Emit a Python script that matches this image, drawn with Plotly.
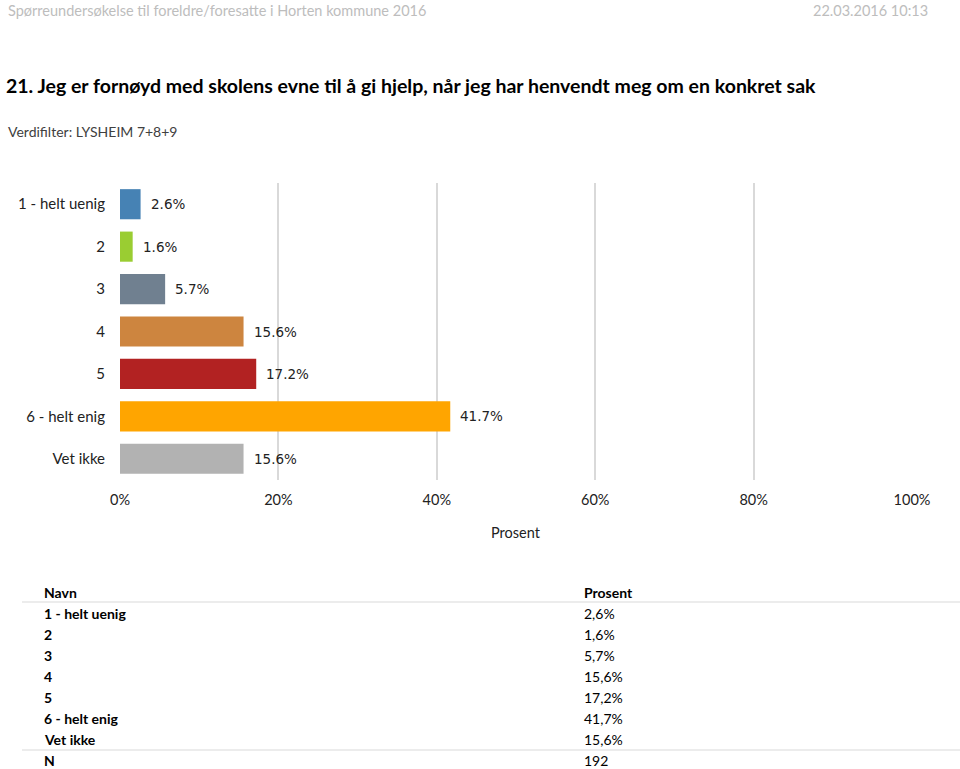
"""Survey question 21: horizontal bar chart plus summary table."""

import plotly.graph_objects as go

W, H = 960, 769

CATEGORIES = ["1 - helt uenig", "2", "3", "4", "5", "6 - helt enig", "Vet ikke"]
PERCENT = [2.6, 1.6, 5.7, 15.6, 17.2, 41.7, 15.6]
BAR_COLORS = ["#4682B4", "#9ACD32", "#708090", "#CD853F", "#B22222", "#FFA500", "#B2B2B2"]
X_TICKS = [0, 20, 40, 60, 80, 100]
N_TOTAL = 192

HEADER_LEFT = "Spørreundersøkelse til foreldre/foresatte i Horten kommune 2016"
HEADER_RIGHT = "22.03.2016 10:13"
TITLE = "21. Jeg er fornøyd med skolens evne til å gi hjelp, når jeg har henvendt meg om en konkret sak"
SUBTITLE = "Verdifilter: LYSHEIM 7+8+9"

FONT = "Lato"
LABEL_FONT = "DejaVu Sans"


def py(px):
    """Pixel row from the top -> paper y."""
    return 1 - px / H


def px_x(px):
    return px / W


fig = go.Figure()
fig.add_trace(
    go.Bar(
        x=PERCENT,
        y=list(range(len(CATEGORIES))),
        orientation="h",
        marker=dict(color=BAR_COLORS, line=dict(width=0)),
        hoverinfo="skip",
        showlegend=False,
    )
)

annotations = []
# value labels just right of each bar end
for idx, val in enumerate(PERCENT):
    annotations.append(
        dict(
            x=val, y=idx, xref="x", yref="y",
            text=f"{val:.1f}%", showarrow=False,
            xanchor="left", xshift=8,
            font=dict(family=LABEL_FONT, size=13.5, color="#222222"),
        )
    )


def paper_text(x, y, text, size, color="#000000", bold=False, anchor="left", family=FONT):
    if bold:
        text = f"<b>{text}</b>"
    annotations.append(
        dict(
            x=px_x(x), y=py(y), xref="paper", yref="paper",
            text=text, showarrow=False,
            xanchor=anchor, yanchor="middle",
            font=dict(family=family, size=size, color=color),
        )
    )


paper_text(6, 10, HEADER_LEFT, 14.5, color="#BDBDBD")
paper_text(930, 10, HEADER_RIGHT, 14.5, color="#BDBDBD", anchor="right")
paper_text(4, 86, TITLE, 19.5, color="#000000", bold=True)
paper_text(6, 132, SUBTITLE, 14, color="#404040")
paper_text(516, 532, "Prosent", 14.5, color="#222222", anchor="center")

# summary table
row_y0, row_step = 592, 21.1
paper_text(42, row_y0, "Navn", 14, bold=True)
paper_text(582, row_y0, "Prosent", 14, bold=True)
for i, (cat, val) in enumerate(zip(CATEGORIES, PERCENT), start=1):
    y = row_y0 + i * row_step
    paper_text(42, y, cat, 14, bold=True)
    paper_text(582, y, f"{val:.1f}%".replace(".", ","), 14)
last_y = row_y0 + (len(CATEGORIES) + 1) * row_step
paper_text(42, last_y, "N", 14, bold=True)
paper_text(582, last_y, str(N_TOTAL), 14)

shapes = []
for line_y in (602, 750):
    shapes.append(
        dict(
            type="line", xref="paper", yref="paper",
            x0=px_x(22), x1=1, y0=py(line_y), y1=py(line_y),
            line=dict(color="#E6E6E6", width=1.5),
        )
    )

fig.update_layout(
    width=W,
    height=H,
    autosize=False,
    margin=dict(l=0, r=0, t=0, b=0, pad=0, autoexpand=False),
    paper_bgcolor="white",
    plot_bgcolor="white",
    bargap=0.29,
    showlegend=False,
    annotations=annotations,
    shapes=shapes,
    font=dict(family=FONT, size=14, color="#222222"),
)
fig.update_xaxes(
    domain=[px_x(120), px_x(912)],
    range=[0, 100],
    tickvals=X_TICKS,
    ticktext=[f"{t}%" for t in X_TICKS],
    showgrid=True,
    gridcolor="#D9D9D9",
    gridwidth=1.5,
    zeroline=False,
    showline=False,
    ticks="",
    automargin=False,
    ticklabelstandoff=9,
    tickfont=dict(family=FONT, size=14.5, color="#222222"),
    fixedrange=True,
)
fig.update_yaxes(
    domain=[py(480), py(183)],
    range=[len(CATEGORIES) - 0.5, -0.5],
    tickvals=list(range(len(CATEGORIES))),
    ticktext=CATEGORIES,
    showgrid=False,
    zeroline=False,
    showline=False,
    ticks="",
    automargin=False,
    ticklabelstandoff=14,
    tickfont=dict(family=FONT, size=15, color="#222222"),
    fixedrange=True,
)

# drop the default body margin so the 960x769 figure fills the window exactly
fig.write_html(
    "out.html",
    config={"responsive": False, "displayModeBar": False},
    post_script="document.body.style.margin='0';document.body.style.overflow='hidden';",
)
